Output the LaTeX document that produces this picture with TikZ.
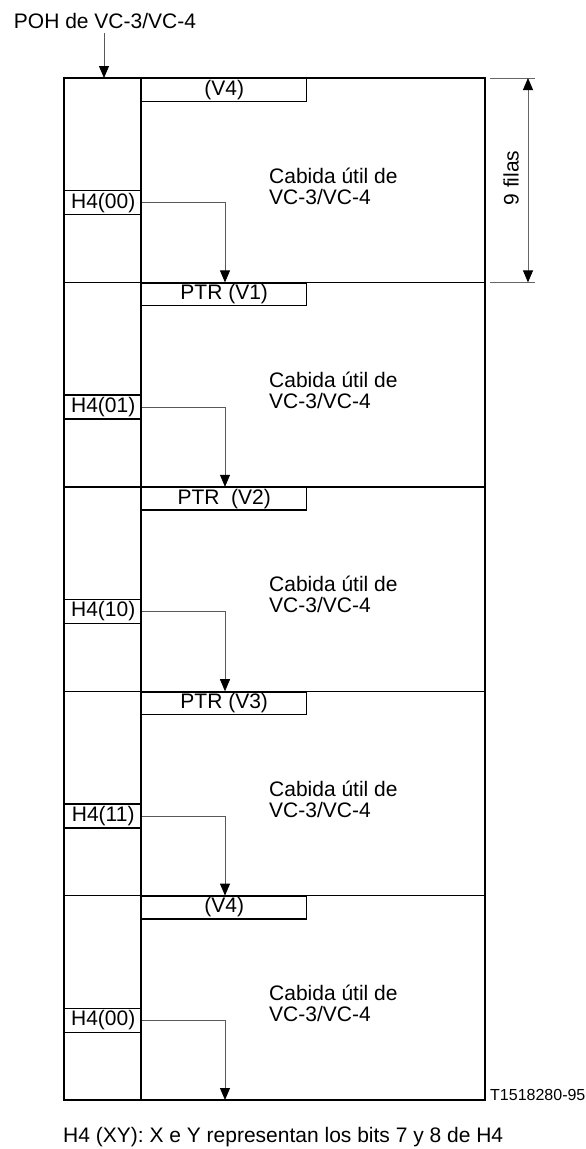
\documentclass[tikz,border=0pt]{standalone}
\usepackage{fontspec}
\setmainfont{Liberation Sans}
\usetikzlibrary{arrows.meta}
\newcommand\mainfs{\fontsize{21}{21}\selectfont}
\newcommand\smallfs{\fontsize{16}{18}\selectfont}
\tikzset{
  frameline/.style={line width=1.4pt},
  ptrbox/.style={draw, line width=1.4pt, minimum width=165pt, minimum height=22.5pt, anchor=north west, inner sep=0pt, font=\mainfs},
  hbox/.style={draw, line width=1.4pt, minimum width=77pt, minimum height=24pt, anchor=north west, inner sep=0pt, font=\mainfs},
  conn/.style={draw=black!65, line width=0.8pt, -{Triangle[width=10pt,length=12pt,color=black]}},
  dimline/.style={draw=black!60, line width=0.8pt, {Triangle[width=10pt,length=12pt,color=black]}-{Triangle[width=10pt,length=12pt,color=black]}},
  extline/.style={draw=black!60, line width=0.8pt},
  payload/.style={anchor=west, align=left, inner sep=0pt, font=\mainfs},
  lbl/.style={inner sep=0pt, font=\mainfs}
}
\begin{document}
\begin{tikzpicture}[x=1pt,y=-1pt]
\useasboundingbox (0,0) rectangle (586,1149);
% header
\node[lbl, anchor=base] (poh) at (105,28) {POH de VC-3/VC-4};
\coordinate (pohs) at (104,33);
\coordinate (poht) at (104,78);
\draw[conn] (pohs) -- (poht);
% frame
\draw[frameline] (64,78) rectangle (485,1100);
\draw[frameline] (141,78) -- (141,1100);
\foreach \t in {282.4,486.8,691.2,895.6}
  \draw[frameline] (64,\t) -- (485,\t);
% section 1
\node[ptrbox] (p1) at (141,78) {(V4)};
\node[hbox] (h1) at (64,190) {H4(00)};
\node[payload] (c1) at (269,186) {Cabida útil de\\VC-3/VC-4};
\coordinate (e1) at (225,282.4);
\draw[conn] (h1.east) -| (e1);
% section 2
\node[ptrbox] (p2) at (141,282.4) {PTR (V1)};
\node[hbox] (h2) at (64,394.4) {H4(01)};
\node[payload] (c2) at (269,390.4) {Cabida útil de\\VC-3/VC-4};
\coordinate (e2) at (225,486.8);
\draw[conn] (h2.east) -| (e2);
% section 3
\node[ptrbox] (p3) at (141,486.8) {PTR\ \ (V2)};
\node[hbox] (h3) at (64,598.8) {H4(10)};
\node[payload] (c3) at (269,594.8) {Cabida útil de\\VC-3/VC-4};
\coordinate (e3) at (225,691.2);
\draw[conn] (h3.east) -| (e3);
% section 4
\node[ptrbox] (p4) at (141,691.2) {PTR (V3)};
\node[hbox] (h4) at (64,803.2) {H4(11)};
\node[payload] (c4) at (269,799.2) {Cabida útil de\\VC-3/VC-4};
\coordinate (e4) at (225,895.6);
\draw[conn] (h4.east) -| (e4);
% section 5
\node[ptrbox] (p5) at (141,895.6) {(V4)};
\node[hbox] (h5) at (64,1007.6) {H4(00)};
\node[payload] (c5) at (269,1003.6) {Cabida útil de\\VC-3/VC-4};
\coordinate (e5) at (225,1100);
\draw[conn] (h5.east) -| (e5);
% dimension
\coordinate (xt1) at (490,78);
\coordinate (xt2) at (535,78);
\coordinate (xb1) at (490,282.4);
\coordinate (xb2) at (535,282.4);
\draw[extline] (xt1) -- (xt2);
\draw[extline] (xb1) -- (xb2);
\coordinate (dt) at (528,78);
\coordinate (db) at (528,282.4);
\draw[dimline] (dt) -- (db);
\node[lbl, rotate=90] (nf) at (511,178) {9 filas};
% labels
\node[anchor=base west, inner sep=0pt, font=\smallfs] (tag) at (490,1100) {T1518280-95};
\node[anchor=base west, inner sep=0pt, font=\mainfs] (note) at (63,1142) {H4 (XY): X e Y representan los bits 7 y 8 de H4};
\end{tikzpicture}
\end{document}
